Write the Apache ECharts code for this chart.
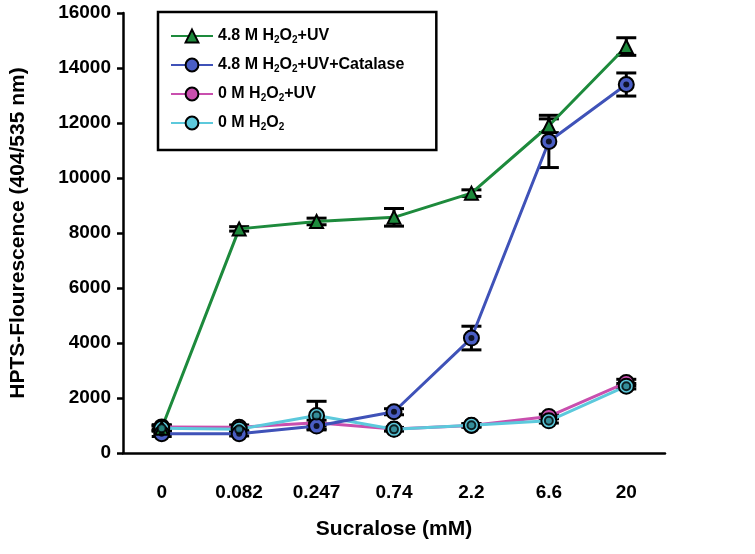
<!DOCTYPE html>
<html><head><meta charset="utf-8">
<script src="https://cdn.jsdelivr.net/npm/echarts@6/dist/echarts.min.js"></script>
<style>html,body{margin:0;padding:0;background:#fff}#c{width:755px;height:554px}</style>
</head><body><div id="c"></div>
<script>
const categories = ['0', '0.082', '0.247', '0.74', '2.2', '6.6', '20'];
const yTicks = [0, 2000, 4000, 6000, 8000, 10000, 12000, 14000, 16000];
const greenVals = [900, 8150, 8420, 8570, 9450, 11900, 14780];
const greenErr  = [100, 80, 120, 320, 120, 250, 320];
const blueVals  = [700, 700, 980, 1500, 4180, 11330, 13400];
const blueErr   = [100, 80, 100, 110, 430, 950, 420];
const pinkVals  = [950, 940, 1100, 870, 1000, 1330, 2560];
const pinkErr   = [80, 80, 100, 60, 60, 80, 120];
const cyanVals  = [900, 860, 1360, 860, 1010, 1170, 2430];
const cyanErr   = [80, 80, 520, 60, 60, 80, 100];
const names = ['4.8 M H2O2+UV', '4.8 M H2O2+UV+Catalase', '0 M H2O2+UV', '0 M H2O2'];

const FONT = 'Liberation Sans';
function errData(vals, errs) { return vals.map((v, i) => [i, v, errs[i]]); }
function errSeries(vals, errs) {
  return {
    type: 'custom', z: 3, silent: true,
    data: errData(vals, errs),
    renderItem: function (params, api) {
      const i = api.value(0), v = api.value(1), e = api.value(2);
      const top = api.coord([i, v + e]);
      const bot = api.coord([i, v - e]);
      const hw = 10;
      const st = { stroke: '#000', lineWidth: 3 };
      return { type: 'group', children: [
        { type: 'line', shape: { x1: top[0], y1: top[1], x2: bot[0], y2: bot[1] }, style: st },
        { type: 'line', shape: { x1: top[0] - hw, y1: top[1], x2: top[0] + hw, y2: top[1] }, style: st },
        { type: 'line', shape: { x1: bot[0] - hw, y1: bot[1], x2: bot[0] + hw, y2: bot[1] }, style: st }
      ]};
    }
  };
}
function lineSeries(name, vals, color, symbol, size, fill) {
  return {
    name: name, type: 'line', data: vals, z: 4,
    symbol: symbol, symbolSize: size,
    lineStyle: { color: color, width: 3 },
    itemStyle: { color: fill, borderColor: '#000', borderWidth: 2 }
  };
}
const chart = echarts.init(document.getElementById('c'), null, { renderer: 'canvas' });
chart.setOption({
  animation: false,
  backgroundColor: '#fff',
  grid: { left: 123, right: 90, top: 13, bottom: 101 },
  legend: {
    orient: 'vertical', left: 158, top: 12,
    data: names,
    backgroundColor: '#fff',
    borderColor: '#000', borderWidth: 2.5,
    padding: [16, 32, 18, 12],
    itemGap: 12, itemWidth: 42, itemHeight: 16,
    formatter: function (n) { return n.replace(/H2O2/g, 'H{sub|2}O{sub|2}'); },
    textStyle: {
      fontFamily: FONT, fontWeight: 'bold', fontSize: 16, color: '#000',
      rich: { sub: { fontFamily: FONT, fontWeight: 'bold', fontSize: 10, color: '#000', verticalAlign: 'bottom', padding: [8, 0, 0, 0] } }
    }
  },
  xAxis: {
    type: 'category', data: categories, boundaryGap: true,
    name: 'Sucralose (mM)', nameLocation: 'middle', nameGap: 66,
    nameTextStyle: { fontFamily: FONT, fontWeight: 'bold', fontSize: 21, color: '#000' },
    axisLine: { lineStyle: { color: '#000', width: 2.5 } },
    axisTick: { alignWithLabel: true, length: 6, lineStyle: { color: '#000', width: 2.5 } },
    axisLabel: { fontFamily: FONT, fontWeight: 'bold', fontSize: 19, color: '#000', margin: 30 },
    splitLine: { show: false }
  },
  yAxis: {
    type: 'value', min: 0, max: 16000, interval: 2000,
    name: 'HPTS-Flourescence (404/535 nm)', nameLocation: 'middle', nameGap: 94, nameRotate: 90,
    nameTextStyle: { fontFamily: FONT, fontWeight: 'bold', fontSize: 21, color: '#000' },
    axisLine: { show: true, lineStyle: { color: '#000', width: 2.5 } },
    axisTick: { show: true, length: 6, lineStyle: { color: '#000', width: 2.5 } },
    axisLabel: { fontFamily: FONT, fontWeight: 'bold', fontSize: 19, color: '#000', margin: 12,
      formatter: function (v) { return yTicks.indexOf(v) >= 0 ? String(v) : ''; } },
    splitLine: { show: false }
  },
  series: [
    errSeries(greenVals, greenErr),
    errSeries(blueVals, blueErr),
    errSeries(pinkVals, pinkErr),
    errSeries(cyanVals, cyanErr),
    lineSeries(names[2], pinkVals, '#c94fae', 'circle', 15, '#c94fae'),
    lineSeries(names[3], cyanVals, '#5cc9dc', 'circle', 15, '#5cc9dc'),
    lineSeries(names[1], blueVals, '#3f52b8', 'circle', 15, '#4a5ec4'),
    lineSeries(names[0], greenVals, '#1d8a3c', 'triangle', 13, '#1d8a3c'),
    { type: 'scatter', data: blueVals, symbol: 'circle', symbolSize: 6, z: 6, silent: true,
      itemStyle: { color: '#000' } },
    { type: 'scatter', data: cyanVals, symbol: 'circle', symbolSize: 8, z: 6, silent: true,
      itemStyle: { color: '#2a7f8a', borderColor: '#000', borderWidth: 2 } }
  ]
});
</script></body></html>
